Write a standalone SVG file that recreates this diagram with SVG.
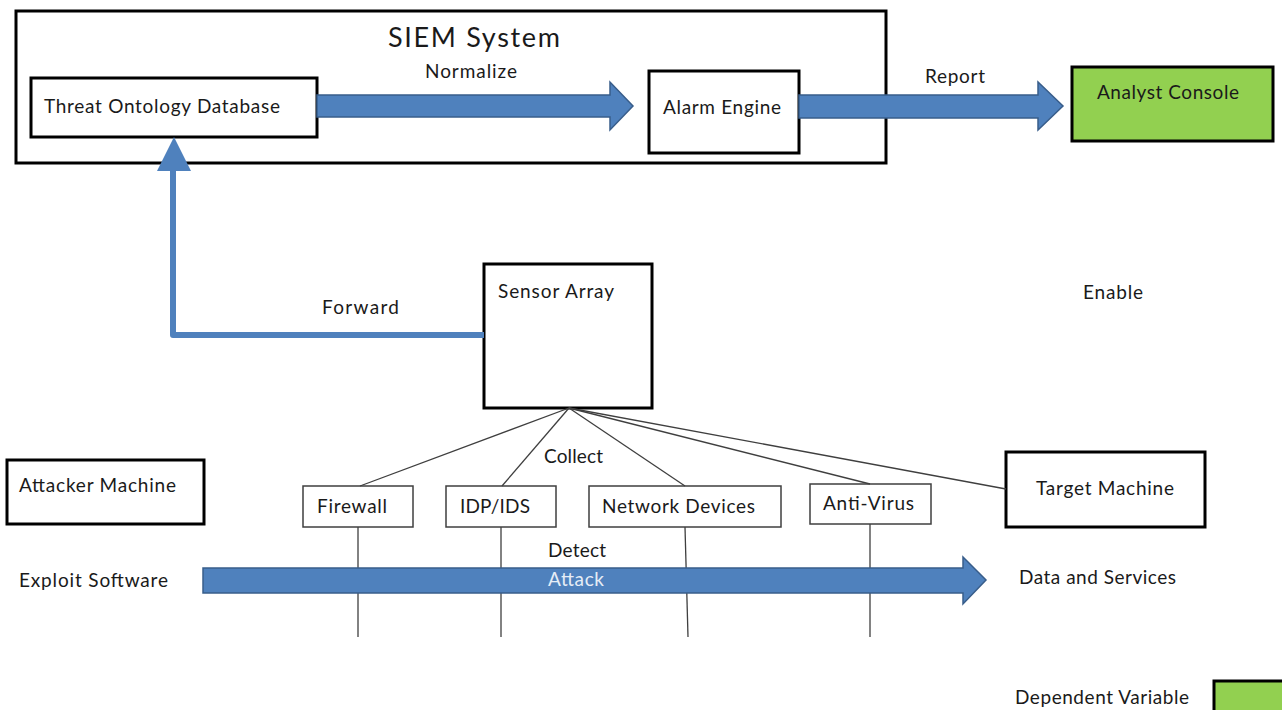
<svg xmlns="http://www.w3.org/2000/svg" width="1282" height="710" viewBox="0 0 1282 710">
  <style>
    .t { font-family: Lato, "Open Sans", "Liberation Sans", sans-serif; font-size: 19px; fill: #1a1a1a; }
    .big { font-size: 27px; }
    .thick { fill: #ffffff; stroke: #000000; stroke-width: 3; }
    .thin { fill: #ffffff; stroke: #3f3f3f; stroke-width: 1.5; }
    .green { fill: #92D050; stroke: #000000; stroke-width: 3; }
    .wire { stroke: #3f3f3f; stroke-width: 1.3; fill: none; }
    .fat { fill: #4F81BD; stroke: #385D8A; stroke-width: 1.5; stroke-linejoin: miter; }
  </style>

  <rect width="1282" height="710" fill="#ffffff"/>

  <!-- SIEM container -->
  <g id="siem">
    <rect class="thick" x="16" y="11" width="870" height="152"/>
    <text class="t big" x="388" y="47" textLength="172">SIEM System</text>
  </g>

  <g id="threat-db">
    <rect class="thick" x="31" y="78" width="286" height="59"/>
    <text class="t" x="44" y="113" textLength="236">Threat Ontology Database</text>
  </g>

  <g id="alarm-engine">
    <rect class="thick" x="649" y="71" width="150" height="82"/>
    <text class="t" x="663" y="114" textLength="118">Alarm Engine</text>
  </g>

  <g id="analyst-console">
    <rect class="green" x="1072" y="67" width="201" height="74"/>
    <text class="t" x="1097" y="99" textLength="142">Analyst Console</text>
  </g>

  <g id="sensor-array">
    <rect class="thick" x="484" y="264" width="168" height="144"/>
    <text class="t" x="498" y="298" textLength="116">Sensor Array</text>
  </g>

  <g id="firewall">
    <rect class="thin" x="303" y="486" width="110" height="41"/>
    <text class="t" x="317" y="513" textLength="70">Firewall</text>
  </g>

  <g id="idp-ids">
    <rect class="thin" x="446" y="486" width="110" height="41"/>
    <text class="t" x="460" y="513" textLength="70">IDP/IDS</text>
  </g>

  <g id="network-devices">
    <rect class="thin" x="589" y="486" width="192" height="41"/>
    <text class="t" x="602" y="513" textLength="153">Network Devices</text>
  </g>

  <g id="anti-virus">
    <rect class="thin" x="810" y="484" width="121" height="40"/>
    <text class="t" x="823" y="510" textLength="91">Anti-Virus</text>
  </g>

  <g id="target-machine">
    <rect class="thick" x="1006" y="452" width="199" height="75"/>
    <text class="t" x="1036" y="495" textLength="138">Target Machine</text>
  </g>

  <g id="attacker-machine">
    <rect class="thick" x="7" y="460" width="197" height="64"/>
    <text class="t" x="19" y="492" textLength="157">Attacker Machine</text>
  </g>

  <g id="legend">
    <text class="t" x="1015" y="704" textLength="174">Dependent Variable</text>
    <rect class="green" x="1214" y="681" width="72" height="40"/>
  </g>

  <!-- connectors -->
  <g id="connectors">
    <!-- Normalize -->
    <polygon class="fat" points="317,95 610,95 610,82 633,106 610,130 610,117 317,117"/>
    <text class="t" x="425" y="78" textLength="92">Normalize</text>

    <!-- Report -->
    <polygon class="fat" points="799,95 1038,95 1038,82 1063,106 1038,130 1038,118 799,118"/>
    <text class="t" x="925" y="83" textLength="60">Report</text>

    <!-- Forward -->
    <polyline points="484,335 173,335 173,168" fill="none" stroke="#4F81BD" stroke-width="6" stroke-linejoin="round"/>
    <polygon points="157,171 191,171 174,137" fill="#4F81BD"/>
    <text class="t" x="322" y="314" textLength="77">Forward</text>

    <!-- Collect fan -->
    <line class="wire" x1="569" y1="408" x2="360" y2="486"/>
    <line class="wire" x1="569" y1="408" x2="502" y2="486"/>
    <line class="wire" x1="569" y1="408" x2="685" y2="486"/>
    <line class="wire" x1="569" y1="408" x2="870" y2="484"/>
    <line class="wire" x1="569" y1="408" x2="1006" y2="489"/>
    <text class="t" x="544" y="463" textLength="59">Collect</text>

    <!-- Detect taps -->
    <line class="wire" x1="358" y1="527" x2="358" y2="637"/>
    <line class="wire" x1="501" y1="527" x2="501" y2="637"/>
    <line class="wire" x1="685" y1="527" x2="688" y2="637"/>
    <line class="wire" x1="870" y1="524" x2="870" y2="637"/>
    <text class="t" x="548" y="557" textLength="58">Detect</text>

    <!-- Attack -->
    <polygon class="fat" points="203,568 963,568 963,557 986,580 963,604 963,593 203,593"/>
    <text class="t" x="548" y="586" textLength="56" style="fill:#e6edf6">Attack</text>
  </g>

  <!-- free labels -->
  <text class="t" x="1083" y="299" textLength="60">Enable</text>
  <text class="t" x="19" y="587" textLength="149">Exploit Software</text>
  <text class="t" x="1019" y="584" textLength="157">Data and Services</text>
</svg>
